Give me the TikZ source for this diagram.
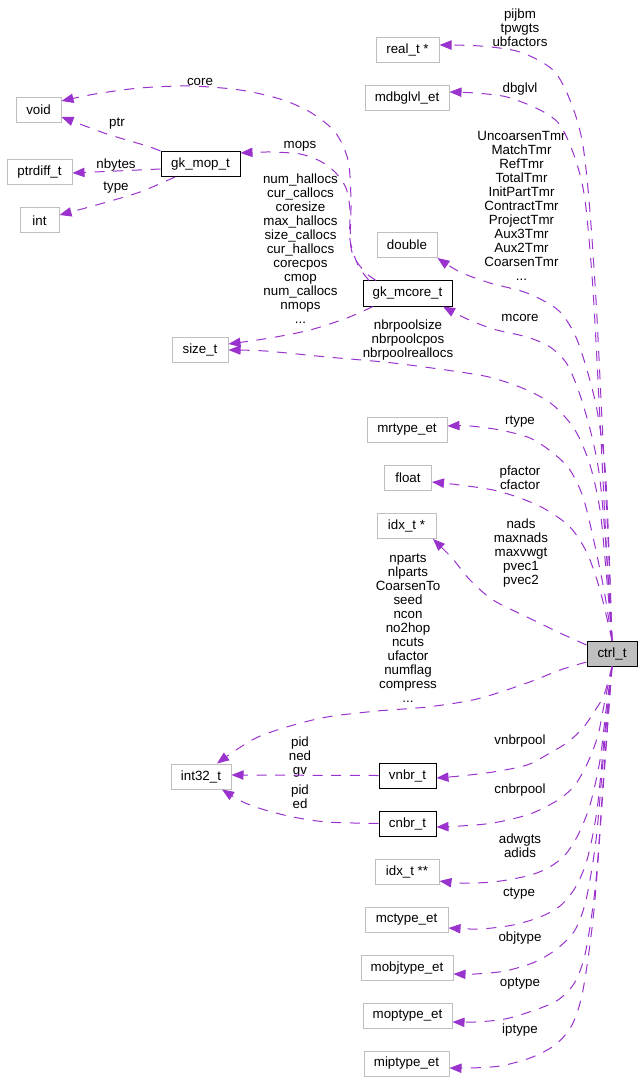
\documentclass[tikz,border=0pt]{standalone}
\usepackage{fontspec}
\setmainfont{Liberation Sans}
\usetikzlibrary{arrows.meta,calc}
\definecolor{edgec}{HTML}{9A32CD}
\definecolor{grayb}{HTML}{BFBFBF}
\begin{document}
\begin{tikzpicture}[x=0.75pt,y=-0.75pt,
  every node/.style={font=\fontsize{10}{10.5}\selectfont, inner sep=0pt},
  gbox/.style={draw=grayb, line width=0.75pt, minimum height=18.75pt},
  dbox/.style={draw=black, line width=0.75pt, minimum height=18.75pt},
  cbox/.style={draw=black, fill=grayb, line width=0.75pt, minimum height=18.75pt},
  lbl/.style={align=center},
  edge/.style={draw=edgec, line width=0.75pt, dash pattern=on 7.5pt off 6.5pt,
    -{Triangle[length=9pt,width=7pt]}},
]
\useasboundingbox (0,0) rectangle (643,1080);

% ---- boxes ----
\node[gbox, minimum width=47.25pt] (real) at (407.5,50) {real\_t *};
\node[gbox, minimum width=63pt] (mdbg) at (407,98) {mdbglvl\_et};
\node[gbox, minimum width=33.75pt] (void) at (38.5,110) {void};
\node[dbox, minimum width=59.25pt] (gkmop) at (200.5,164) {gk\_mop\_t};
\node[gbox, minimum width=48.75pt] (ptrdiff) at (39.5,172.5) {ptrdiff\_t};
\node[gbox, minimum width=29.25pt] (int) at (39.5,220.5) {int};
\node[gbox, minimum width=45pt] (double) at (407,245) {double};
\node[dbox, minimum width=66.75pt] (gkmcore) at (407.5,293.5) {gk\_mcore\_t};
\node[gbox, minimum width=42pt] (size) at (200,349.5) {size\_t};
\node[gbox, minimum width=60pt] (mrtype) at (407,430) {mrtype\_et};
\node[gbox, minimum width=35.25pt] (float) at (408,478) {float};
\node[gbox, minimum width=44.25pt] (idxp) at (406.5,526) {idx\_t *};
\node[cbox, minimum width=37.5pt] (ctrl) at (612,653.5) {ctrl\_t};
\node[gbox, minimum width=45pt] (int32) at (201,776.5) {int32\_t};
\node[dbox, minimum width=42.75pt] (vnbr) at (407.5,775.5) {vnbr\_t};
\node[dbox, minimum width=42.75pt] (cnbr) at (407.5,823.5) {cnbr\_t};
\node[gbox, minimum width=48pt] (idxpp) at (407,872) {idx\_t **};
\node[gbox, minimum width=62.25pt] (mctype) at (406.5,919.5) {mctype\_et};
\node[gbox, minimum width=69pt] (mobjtype) at (407,968) {mobjtype\_et};
\node[gbox, minimum width=66.75pt] (moptype) at (407.5,1015.5) {moptype\_et};
\node[gbox, minimum width=63.75pt] (miptype) at (406.5,1063.5) {miptype\_et};

% ---- labels ----
\node[lbl] (lreal) at (520,28) {pijbm\\tpwgts\\ubfactors};
\node[lbl] (lmdbg) at (520,89) {dbglvl};
\node[lbl] (ldouble) at (521.5,206) {UncoarsenTmr\\MatchTmr\\RefTmr\\TotalTmr\\InitPartTmr\\ContractTmr\\ProjectTmr\\Aux3Tmr\\Aux2Tmr\\CoarsenTmr\\...};
\node[lbl] (lmcore) at (520,318) {mcore};
\node[lbl] (lsize) at (408,340) {nbrpoolsize\\nbrpoolcpos\\nbrpoolreallocs};
\node[lbl] (lrtype) at (520,422) {rtype};
\node[lbl] (lfloat) at (520,478) {pfactor\\cfactor};
\node[lbl] (lidxp) at (521,553) {nads\\maxnads\\maxvwgt\\pvec1\\pvec2};
\node[lbl] (lint32) at (408,628) {nparts\\nlparts\\CoarsenTo\\seed\\ncon\\no2hop\\ncuts\\ufactor\\numflag\\compress\\...};
\node[lbl] (lvnbr) at (520,741) {vnbrpool};
\node[lbl] (lcnbr) at (520,790) {cnbrpool};
\node[lbl] (lidxpp) at (520,846) {adwgts\\adids};
\node[lbl] (lmctype) at (519,894) {ctype};
\node[lbl] (lmobj) at (520,938) {objtype};
\node[lbl] (lmop) at (520,984) {optype};
\node[lbl] (lmip) at (520,1030) {iptype};
\node[lbl] (lvnbrint) at (300,757) {pid\\ned\\gv};
\node[lbl] (lcnbrint) at (300,797) {pid\\ed};
\node[lbl] (lcore) at (200,82) {core};
\node[lbl] (lptr) at (117,124) {ptr};
\node[lbl] (lmops) at (300,146) {mops};
\node[lbl] (lnbytes) at (116,165) {nbytes};
\node[lbl] (ltype) at (116,188) {type};
\node[lbl] (lmcoresize) at (300.5,249) {num\_hallocs\\cur\_callocs\\coresize\\max\_hallocs\\size\_callocs\\cur\_hallocs\\corecpos\\cmop\\num\_callocs\\nmops\\...};

% ---- edges from ctrl_t (upwards) ----
\draw[edge] plot[smooth] coordinates {(ctrl.north) (609,560) (602,420) (596,300) (589,200) (582,140) (570,100) (553,70) (520,52) (480,46) (real.east |- 0,45)};
\draw[edge] plot[smooth] coordinates {(ctrl.north) (607,560) (600,420) (593,290) (585,200) (575,158) (560,125) (540,110) (507,97) (475,93) (mdbg.east |- 0,92)};
\draw[edge] plot[smooth] coordinates {(ctrl.north) (609,550) (605,467) (597,410) (587,370) (575,335) (558,310) (527,293) (490,283) (460,272) (double.south east)};
\draw[edge] plot[smooth] coordinates {(ctrl.north) (607,560) (600,480) (592,437) (580,395) (567,364) (550,347) (527,337) (493,329) (465,318) (443,0 |- gkmcore.south)};
\draw[edge] plot[smooth] coordinates {(ctrl.north) (606,570) (600,510) (590,465) (575,430) (553,405) (527,390) (493,378) (460,372) (393,363) (327,357) (265,351) (size.east |- 0,350)};
\draw[edge] plot[smooth] coordinates {(ctrl.north) (604,590) (593,537) (583,497) (570,470) (553,453) (530,438) (500,430) (470,426) (mrtype.east |- 0,426)};
\draw[edge] plot[smooth] coordinates {(ctrl.north) (600,590) (587,553) (570,527) (545,509) (520,498) (493,490) (460,485) (float.east |- 0,482)};
% ---- edges from ctrl_t (left) ----
\draw[edge] plot[smooth] coordinates {(ctrl.west |- 0,645) (560,633) (527,617) (493,600) (470,580) (452,558) (433,0 |- idxp.south)};
\draw[edge] plot[smooth] coordinates {(ctrl.west |- 0,662) (560,670) (527,683) (477,699) (427,707) (377,711) (327,717) (290,726) (258,737) (236,750) (217,0 |- int32.north)};
% ---- edges from ctrl_t (downwards) ----
\draw[edge] plot[smooth] coordinates {(ctrl.south) (604,695) (594,712) (583,728) (568,742) (550,753) (527,765) (493,772) (460,776) (vnbr.east |- 0,778)};
\draw[edge] plot[smooth] coordinates {(ctrl.south) (605,700) (598,735) (588,762) (575,785) (558,800) (530,814) (493,823) (460,826) (cnbr.east |- 0,827)};
\draw[edge] plot[smooth] coordinates {(ctrl.south) (606,710) (600,760) (590,805) (578,835) (565,855) (548,868) (527,876) (493,882) (460,883) (idxpp.east |- 0,881)};
\draw[edge] plot[smooth] coordinates {(ctrl.south) (605,730) (597,810) (587,860) (575,888) (560,906) (540,917) (513,925) (480,929) (mctype.east |- 0,928)};
\draw[edge] plot[smooth] coordinates {(ctrl.south) (604,750) (596,840) (586,900) (575,930) (558,948) (535,962) (505,971) (475,974) (mobjtype.east |- 0,974)};
\draw[edge] plot[smooth] coordinates {(ctrl.south) (604,770) (596,880) (586,950) (575,982) (558,1000) (535,1010) (505,1019) (475,1022) (moptype.east |- 0,1022)};
\draw[edge] plot[smooth] coordinates {(ctrl.south) (603,790) (594,910) (583,990) (572,1025) (555,1045) (530,1058) (500,1066) (470,1068) (miptype.east |- 0,1068)};

% ---- other edges ----
\draw[edge] (vnbr.west) -- (int32.east |- 0,775);
\draw[edge] plot[smooth] coordinates {(cnbr.west) (327,822) (293,817) (265,810) (243,802) (222,0 |- int32.south)};
\draw[edge] plot[smooth] coordinates {(373,0 |- gkmcore.south) (347,318) (310,330) (270,338) (size.east |- 0,344)};
\draw[edge] plot[smooth] coordinates {(376,0 |- gkmcore.north) (363,270) (351,248) (351,200) (348,160) (335,132) (310,112) (280,99) (240,90) (190,86) (140,88) (95,94) (void.east |- 0,101)};
\draw[edge] plot[smooth] coordinates {(369,0 |- gkmcore.north) (358,265) (350,240) (350,210) (346,188) (335,172) (320,161) (300,154) (270,152) (gkmop.east |- 0,153)};
\draw[edge] plot[smooth] coordinates {(gkmop.north west) (147,146) (110,135) (85,126) (void.east |- 0,117)};
\draw[edge] (gkmop.west |- 0,169) -- (ptrdiff.east |- 0,173);
\draw[edge] plot[smooth] coordinates {(175,0 |- gkmop.south) (140,192) (100,204) (int.east |- 0,215)};
\end{tikzpicture}
\end{document}
